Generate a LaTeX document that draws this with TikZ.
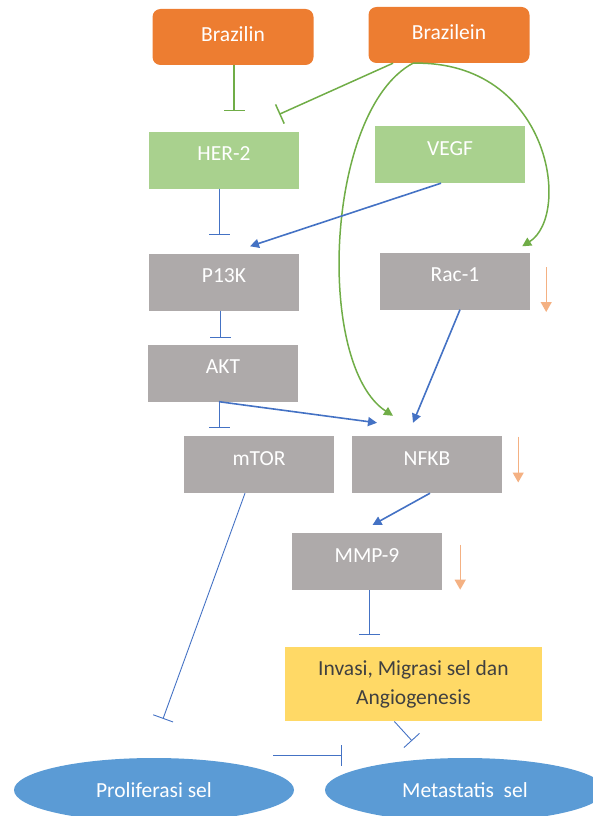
\documentclass[tikz,border=0pt]{standalone}
\usepackage{fontspec}
\setmainfont{Carlito}
\usetikzlibrary{arrows.meta,shapes.geometric}
\definecolor{boxorange}{HTML}{ED7D31}
\definecolor{boxgreen}{HTML}{A9D18E}
\definecolor{boxgray}{HTML}{AEAAAA}
\definecolor{boxyellow}{HTML}{FFD966}
\definecolor{ovalblue}{HTML}{5B9BD5}
\definecolor{lineblue}{HTML}{4472C4}
\definecolor{linegreen}{HTML}{70AD47}
\definecolor{downpeach}{HTML}{F4B183}

\begin{document}
\begin{tikzpicture}[x=1pt,y=-1pt,
  lbl/.style={font=\fontsize{21.5}{29}\selectfont},
  box/.style={lbl,minimum width=150pt,minimum height=57pt,text=white,text height=14pt,text depth=12.2pt},
  drug/.style={box,fill=boxorange,rounded corners=8pt,minimum width=161pt,minimum height=56pt,text depth=5.2pt},
  receptor/.style={box,fill=boxgreen},
  protein/.style={box,fill=boxgray},
  effect/.style={lbl,fill=boxyellow,text=black!75,minimum width=257pt,minimum height=74pt,align=center},
  outcome/.style={lbl,ellipse,fill=ovalblue,text=white,minimum width=280pt,minimum height=64pt,inner sep=0pt},
  act/.style={-{Triangle[length=9pt,width=9pt]},line width=1.6pt},
  stop/.style={-{Bar[width=21pt]},line width=0.9pt},
  lowered/.style={-{Triangle[length=10pt,width=11pt]},downpeach,line width=1.2pt}]
\useasboundingbox (0,0) rectangle (593,816);

% nodes
\node[drug] (brazilin) at (233,37) {Brazilin};
\node[drug] (brazilein) at (449,35) {Brazilein};
\node[receptor] (her2) at (224,160) {HER-2};
\node[receptor] (vegf) at (450,154.5) {VEGF};
\node[protein] (p13k) at (224,282) {P13K};
\node[protein] (rac1) at (455,281) {Rac-1};
\node[protein] (akt) at (223,373) {AKT};
\node[protein] (mtor) at (259,464.5) {mTOR};
\node[protein] (nfkb) at (427,464.5) {NFKB};
\node[protein] (mmp9) at (367,561.7) {MMP-9};
\node[effect] (invasi) at (413.4,684.3) {Invasi, Migrasi sel dan\\Angiogenesis};
\node[outcome] (prolif) at (154,790) {Proliferasi sel};
\node[outcome] (metast) at (465,790) {Metastatis\ \ sel};

% brazilin / brazilein
\draw[stop,linegreen,line width=1.5pt,shorten >=20pt] ([xshift=1pt]brazilin.south) -- ([xshift=1pt]brazilin.south |- her2.north);
\draw[stop,linegreen,line width=1.5pt] ([xshift=-56pt]brazilein.south) -- ([shift={(-20,-17)}]her2.north east);
\draw[act,linegreen,line width=1.5pt] ([xshift=-36pt]brazilein.south) .. controls (325,110) and (315,365) .. ([shift={(-34,-20)}]nfkb.north);
\draw[act,linegreen,line width=1.5pt] ([xshift=-36pt]brazilein.south) .. controls (550,60) and (572,215) .. ([shift={(-8,-6)}]rac1.north east);

% pathway
\draw[stop,lineblue,shorten >=18pt] ([xshift=-5pt]her2.south) -- ([xshift=-5pt]her2.south |- p13k.north);
\draw[act,lineblue] ([xshift=-9pt]vegf.south) -- ([shift={(26,-7)}]p13k.north);
\draw[stop,lineblue,shorten >=6.5pt] ([xshift=-4pt]p13k.south) -- ([xshift=-4pt]p13k.south |- akt.north);
\draw[stop,lineblue,shorten >=8pt] ([xshift=-4pt]akt.south) -- ([xshift=-4pt]akt.south |- mtor.north);
\draw[act,lineblue] ([xshift=-4pt]akt.south) -- ([shift={(-50,-13)}]nfkb.north);
\draw[act,lineblue] ([xshift=5pt]rac1.south) -- ([shift={(-14,-13)}]nfkb.north);
\draw[act,lineblue] ([xshift=3pt]nfkb.south) -- ([shift={(5.5,-8)}]mmp9.north);
\draw[stop,lineblue,shorten >=12pt] ([xshift=2.5pt]mmp9.south) -- ([xshift=2.5pt]mmp9.south |- invasi.north);
\draw[stop,lineblue] ([xshift=-14pt]mtor.south) -- ([shift={(9,-39)}]prolif.north);
\draw[stop,lineblue] ([xshift=-19pt]invasi.south) -- ([shift={(-53,-17)}]metast.north);
\draw[stop,lineblue] ([shift={(119,-2)}]prolif.north) -- ([shift={(-123,-2)}]metast.north);

% down-regulated
\draw[lowered] ([shift={(16,-14)}]rac1.east) -- ([shift={(16,31)}]rac1.east);
\draw[lowered] ([shift={(16,-28)}]nfkb.east) -- ([shift={(16,18)}]nfkb.east);
\draw[lowered] ([shift={(18,-17)}]mmp9.east) -- ([shift={(18,28)}]mmp9.east);
\end{tikzpicture}
\end{document}
